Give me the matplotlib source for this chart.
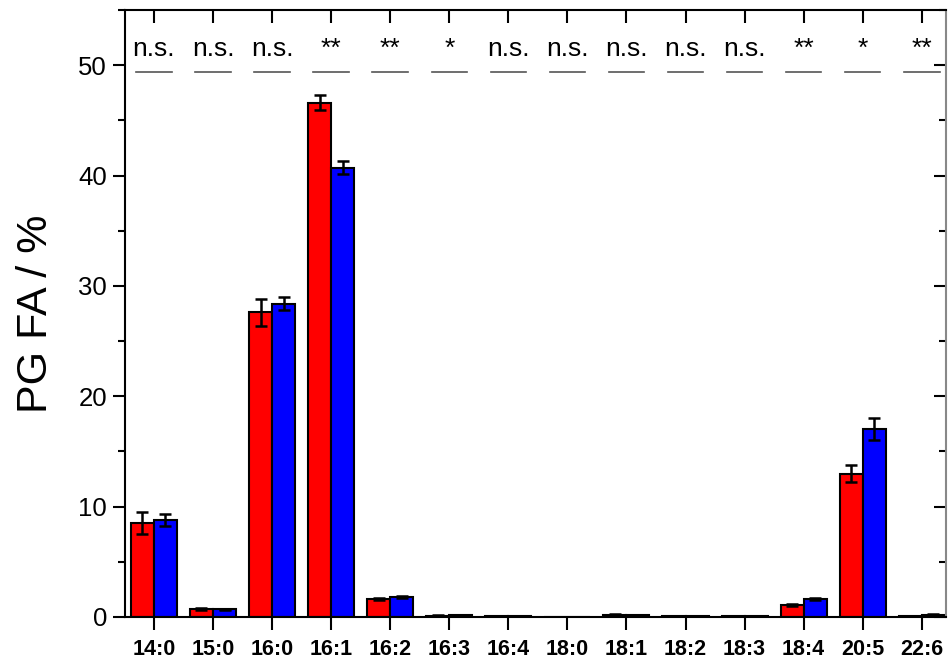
import matplotlib.pyplot as plt
import numpy as np
from matplotlib.ticker import MultipleLocator

plt.rcParams['font.family'] = ['Liberation Sans', 'DejaVu Sans']

fas = ['14:0', '15:0', '16:0', '16:1', '16:2', '16:3', '16:4',
       '18:0', '18:1', '18:2', '18:3', '18:4', '20:5', '22:6']
red = [8.5, 0.7, 27.6, 46.6, 1.6, 0.12, 0.05, 0.03, 0.2, 0.05, 0.05, 1.1, 13.0, 0.1]
red_err = [1.0, 0.08, 1.2, 0.7, 0.1, 0.02, 0.01, 0.01, 0.03, 0.01, 0.01, 0.12, 0.8, 0.02]
blue = [8.8, 0.7, 28.4, 40.7, 1.8, 0.15, 0.05, 0.03, 0.15, 0.05, 0.05, 1.6, 17.0, 0.2]
blue_err = [0.55, 0.06, 0.6, 0.6, 0.08, 0.02, 0.01, 0.01, 0.02, 0.01, 0.01, 0.1, 1.0, 0.03]
sig = ['n.s.', 'n.s.', 'n.s.', '**', '**', '*', 'n.s.', 'n.s.', 'n.s.', 'n.s.', 'n.s.', '**', '*', '**']

x = np.arange(len(fas))
w = 0.39

fig = plt.figure(figsize=(9.5, 6.64), dpi=100)
ax = fig.add_axes([125 / 950, 1 - 617 / 664, (946 - 125) / 950, (617 - 10) / 664])

ekw = dict(elinewidth=1.8, capthick=1.8, capsize=4.5, ecolor='black')
ax.bar(x - w / 2, red, w, yerr=red_err, color='#ff0000', edgecolor='black', linewidth=1.5, error_kw=ekw)
ax.bar(x + w / 2, blue, w, yerr=blue_err, color='#0000ff', edgecolor='black', linewidth=1.5, error_kw=ekw)

for i, s in enumerate(sig):
    ax.text(x[i], 50.4, s, ha='center', va='bottom', fontsize=19)
    ax.plot([x[i] - 0.3, x[i] + 0.3], [49.4, 49.4], color='#555555', lw=1.2)

ax.set_xlim(-0.49, 13.41)
ax.set_ylim(0, 55)
ax.set_xticks(x)
ax.set_xticklabels(fas, fontsize=15.5, fontweight='bold')
ax.set_yticks([0, 10, 20, 30, 40, 50])
ax.yaxis.set_minor_locator(MultipleLocator(5))
ax.tick_params(axis='y', which='major', direction='out', length=9, width=1.5, labelsize=18.5, pad=4,
               right=True)
ax.tick_params(axis='y', which='minor', direction='out', length=5, width=1.5, right=True)
ax.tick_params(axis='x', direction='out', length=9, width=1.5, pad=7, top=True)
ax.set_ylabel('PG FA / %', fontsize=31, labelpad=16)

# ticks on top and right point inward
for t in ax.xaxis.get_major_ticks():
    t.tick2line.set_marker(3)
for t in ax.yaxis.get_major_ticks() + ax.yaxis.get_minor_ticks():
    t.tick2line.set_marker(0)

for sp in ax.spines.values():
    sp.set_linewidth(1.5)
ax.spines['right'].set_color('#888888')

fig.savefig('out.png', dpi=100)
